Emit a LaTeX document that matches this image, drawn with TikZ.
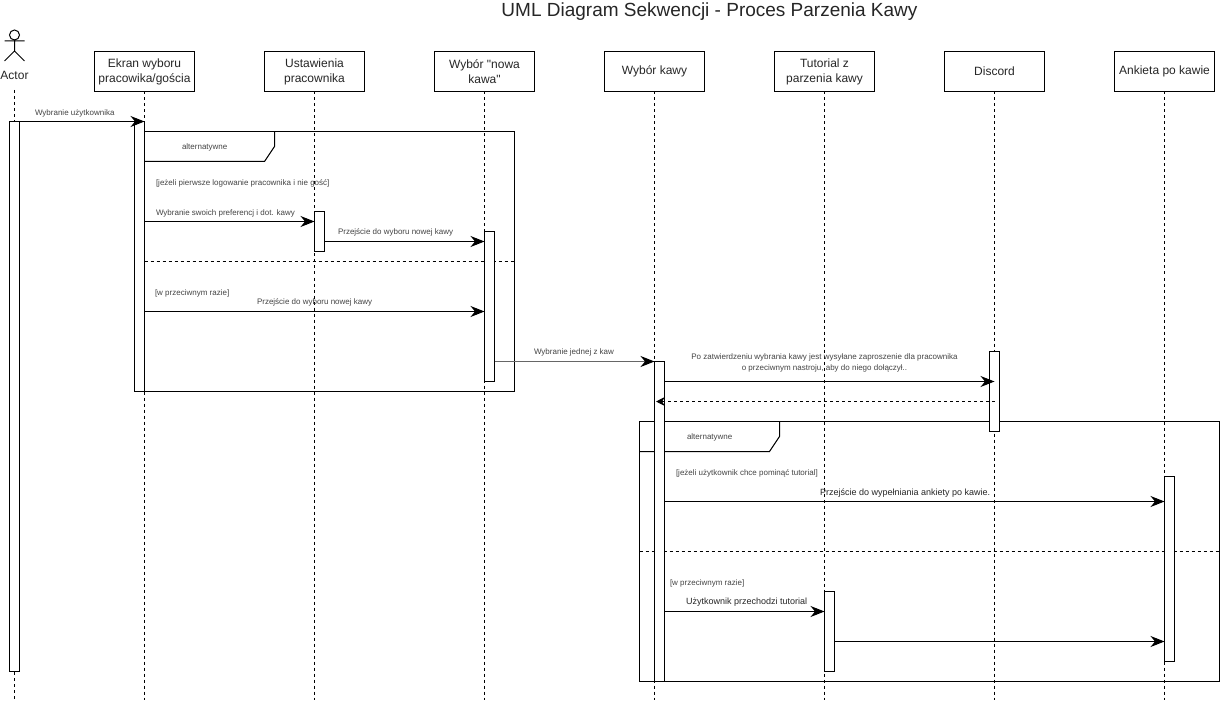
\documentclass[tikz,border=0pt]{standalone}
\usepackage{fontspec}
\setmainfont{Liberation Sans}
\newfontfamily\plainfont{Liberation Sans}
\usetikzlibrary{arrows.meta,calc}
\definecolor{lbl}{HTML}{444444}
\tikzset{
  x=1pt,y=-1pt,
  every node/.style={inner sep=0pt,outer sep=0pt},
  head/.style={draw=black,line width=1pt,fill=white,minimum width=100pt,minimum height=40pt,align=center,font=\fontsize{12}{15}\selectfont,text=black!85},
  act/.style={draw=black,line width=1pt,fill=white,minimum width=10pt},
  life/.style={draw=black,line width=0.8pt,dash pattern=on 3pt off 3pt},
  frameline/.style={draw=black,line width=1pt},
  divider/.style={draw=black,line width=1pt,dash pattern=on 3pt off 3pt},
  msg/.style={draw=black,line width=1pt,-{Stealth[length=14pt,width=11pt,inset=4.5pt]}},
  graymsg/.style={draw=black!60,line width=1.5pt,-{Stealth[black,length=14pt,width=11pt,inset=4.5pt]}},
  reply/.style={draw=black,line width=1pt,dash pattern=on 3pt off 3pt,-{Stealth[length=9pt,width=9pt,inset=3pt,sep=0pt]}},
  lab/.style={font=\fontsize{8}{11}\selectfont,text=lbl,anchor=west},
  labb/.style={font=\fontsize{9}{11}\selectfont,text=black!85,anchor=west},
}
\begin{document}
\begin{tikzpicture}
\useasboundingbox (0,0) rectangle (1220,703);
\fill[white] (0,0) rectangle (1220,703);
\node[font=\fontsize{19}{23}\selectfont,text=black!85] (title) at (709.5,12) {UML Diagram Sekwencji - Proces Parzenia Kawy};

% actor
\node[draw=black,line width=1pt,circle,minimum size=10pt] (ahead) at (14.5,35) {};
\coordinate (ahip) at (14.5,51);
\coordinate (aarmL) at (4.5,41);
\coordinate (aarmR) at (24.5,41);
\coordinate (alegL) at (4.5,61);
\coordinate (alegR) at (24.5,61);
\draw[line width=1pt] (ahead.south) -- (ahip) (aarmL) -- (aarmR) (alegL) -- (ahip) -- (alegR);
\node[font=\fontsize{12}{14}\selectfont,text=black!85] (actor) at (14.5,75) {Actor};
\coordinate (actorEnd) at (14.5,90);

% headers
\node[head] (h1) at (144.5,71.5) {Ekran wyboru\\pracowika/gościa};
\node[head] (h2) at (314.5,71.5) {Ustawienia\\pracownika};
\node[head] (h3) at (484.5,71.5) {Wybór {\plainfont"}nowa\\kawa{\plainfont"}};
\node[head] (h4) at (654.5,71.5) {Wybór kawy};
\node[head] (h5) at (824.5,71.5) {Tutorial z\\parzenia kawy};
\node[head] (h6) at (994.5,71.5) {Discord};
\node[head] (h7) at (1164.5,71.5) {Ankieta po kawie};

% lifelines
\coordinate (bottom) at (0,700);
\draw[life] (actorEnd) -- (actorEnd |- bottom);
\foreach \n in {h1,h2,h3,h4,h5,h6,h7}{\draw[life] (\n.south) -- (\n.south |- bottom);}

% frame 1
\draw[frameline] (134.5,131.5) rectangle (514.5,391);
\coordinate (f1b) at (274.5,131.5);
\coordinate (f1c) at (274.5,146.5);
\coordinate (f1d) at (264.5,161.5);
\coordinate (f1e) at (134.5,161.5);
\draw[frameline] (f1b) -- (f1c) -- (f1d) -- (f1e);
\draw[divider] (144.5,261.5) -- (514.5,261.5);

% frame 2
\draw[frameline] (639.5,421.5) rectangle (1219.5,681.5);
\coordinate (f2b) at (779.5,421.5);
\coordinate (f2c) at (779.5,436.5);
\coordinate (f2d) at (769.5,451.5);
\coordinate (f2e) at (639.5,451.5);
\draw[frameline] (f2b) -- (f2c) -- (f2d) -- (f2e);
\draw[divider] (639.5,551.5) -- (1219.5,551.5);

% activations
\node[act,minimum height=550pt] (a0) at (14.5,396.5) {};
\node[act,minimum height=270pt] (a1) at (139.5,256.5) {};
\node[act,minimum height=40pt] (a2) at (319.5,231.5) {};
\node[act,minimum height=150pt] (a3) at (489.5,306.5) {};
\node[act,minimum height=320pt] (a4) at (659.5,521.5) {};
\node[act,minimum height=80pt] (a6) at (994.5,391.5) {};
\node[act,minimum height=185pt] (a7) at (1169.5,569) {};
\node[act,minimum height=80pt] (a5) at (829.5,631.5) {};

% messages
\draw[msg] (a0.east |- 0,121.5) -- (a1.east |- 0,121.5);
\draw[msg] (a1.east |- 0,221.5) -- (a2.west |- 0,221.5);
\draw[msg] (a2.east |- 0,241.5) -- (a3.west |- 0,241.5);
\draw[msg] (a1.east |- 0,311.5) -- (a3.west |- 0,311.5);
\draw[graymsg] (a3.east |- 0,361.5) -- (a4.west |- 0,361.5);
\draw[msg] (a4.east |- 0,381.5) -- (a6.center |- 0,381.5);
\draw[reply] (a6.center |- 0,401.5) -- ($(a4.west |- 0,401.5)+(1.5,0)$);
\draw[msg] (a4.east |- 0,501.5) -- (a7.west |- 0,501.5);
\draw[msg] (a4.east |- 0,611.5) -- (a5.west |- 0,611.5);
\draw[msg] (a5.east |- 0,641.5) -- (a7.west |- 0,641.5);

% labels
\node[lab] (t1) at (35,113.5) {Wybranie użytkownika};
\node[lab] (t2) at (182,147) {alternatywne};
\node[lab] (t3) at (156,183) {[jeżeli pierwsze logowanie pracownika i nie gość]};
\node[lab] (t4) at (156,213) {Wybranie swoich preferencj i dot. kawy};
\node[lab] (t5) at (338,232.5) {Przejście do wyboru nowej kawy};
\node[lab] (t6) at (155,293) {[w przeciwnym razie]};
\node[lab] (t7) at (257,302.5) {Przejście do wyboru nowej kawy};
\node[lab] (t8) at (534,352) {Wybranie jednej z kaw};
\node[lab,anchor=center,align=center] (t9) at (824.5,363) {Po zatwierdzeniu wybrania kawy jest wysyłane zaproszenie dla pracownika\\o przeciwnym nastroju, aby do niego dołączył..};
\node[lab] (t10) at (687,437) {alternatywne};
\node[lab] (t11) at (676,473) {[jeżeli użytkownik chce pominąć tutorial]};
\node[labb] (t12) at (820,493.5) {Przejście do wypełniania ankiety po kawie.};
\node[lab] (t13) at (670,583) {[w przeciwnym razie]};
\node[labb] (t14) at (686,602.5) {Użytkownik przechodzi tutorial};
\end{tikzpicture}
\end{document}
